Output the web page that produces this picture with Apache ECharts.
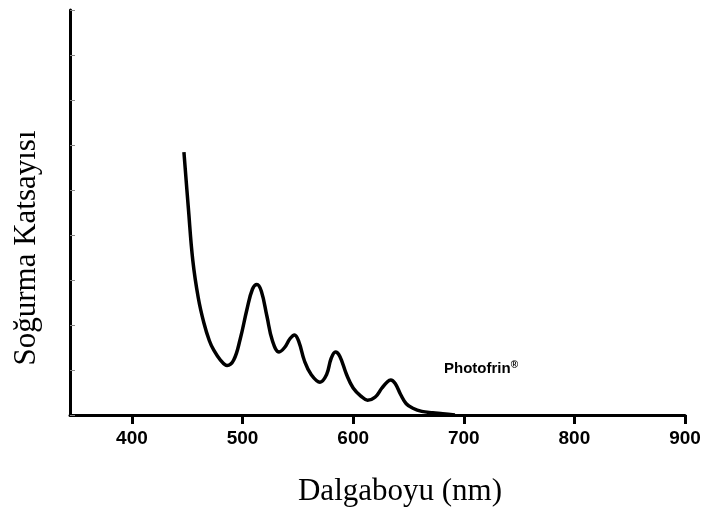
<!DOCTYPE html>
<html>
<head>
<meta charset="utf-8">
<script src="https://cdn.jsdelivr.net/npm/echarts@6/dist/echarts.min.js"></script>
<style>html,body{margin:0;background:#fff}#chart{width:713px;height:514px}</style>
</head>
<body>
<div id="chart"></div>
<script>
// absorption spectrum (nm, arbitrary units)
const wavelengths = [447, 451, 455, 460, 465, 470, 474, 480, 486, 492, 498, 504, 509, 513, 517, 522, 527, 533, 538, 543, 547, 551, 556, 562, 570, 576, 580, 584, 588, 594, 600, 607, 613, 620, 626, 631, 634, 638, 643, 648, 654, 662, 672, 681, 692];
const absorbance = [5.84, 4.6, 3.44, 2.6, 2.05, 1.65, 1.44, 1.22, 1.1, 1.22, 1.7, 2.35, 2.8, 2.9, 2.75, 2.2, 1.65, 1.4, 1.5, 1.7, 1.78, 1.62, 1.2, 0.9, 0.73, 0.9, 1.25, 1.4, 1.3, 0.9, 0.6, 0.42, 0.33, 0.4, 0.6, 0.74, 0.78, 0.7, 0.45, 0.25, 0.15, 0.08, 0.05, 0.03, 0.0];
const xTicks = [400, 500, 600, 700, 800, 900];

const chart = echarts.init(document.getElementById('chart'));
chart.setOption({
    animation: false,
    grid: { left: 70, right: 28, top: 10, bottom: 99, containLabel: false, outerBoundsMode: 'none' },
    xAxis: {
        type: 'value', min: 344, max: 900,
        axisLine: { lineStyle: { color: '#000', width: 3 } },
        axisTick: { customValues: xTicks, length: 9, lineStyle: { color: '#000', width: 3 } },
        axisLabel: { customValues: xTicks, fontFamily: 'Liberation Sans', fontWeight: 'bold', fontSize: 19, color: '#000', margin: 14 },
        splitLine: { show: false }
    },
    yAxis: {
        type: 'value', min: 0, max: 9, interval: 1,
        axisLine: { show: true, lineStyle: { color: '#000', width: 3 } },
        axisTick: { show: true, inside: true, length: 5, lineStyle: { color: '#888', width: 1 } },
        axisLabel: { show: false },
        splitLine: { show: false }
    },
    series: [{
        type: 'line', smooth: 0.4, showSymbol: false,
        data: wavelengths.map((w, i) => [w, absorbance[i]]),
        lineStyle: { color: '#000', width: 3.5 }
    }],
    graphic: [{
        type: 'text', left: 444, top: 360,
        style: {
            text: '{a|Photofrin}{b|®}',
            rich: {
                a: { font: 'bold 15px Liberation Sans', fill: '#000' },
                b: { font: 'bold 10px Liberation Sans', fill: '#000', verticalAlign: 'top', padding: [0, 0, 8, 0] }
            }
        }
    }, {
        type: 'text', x: 400, y: 492,
        style: { text: 'Dalgaboyu (nm)', font: '31px Liberation Serif', fill: '#000', align: 'center', verticalAlign: 'middle' }
    }, {
        type: 'text', x: 27, y: 248, rotation: Math.PI / 2,
        style: { text: 'Soğurma Katsayısı', font: '31px Liberation Serif', fill: '#000', align: 'center', verticalAlign: 'middle' }
    }]
});
</script>
</body>
</html>
